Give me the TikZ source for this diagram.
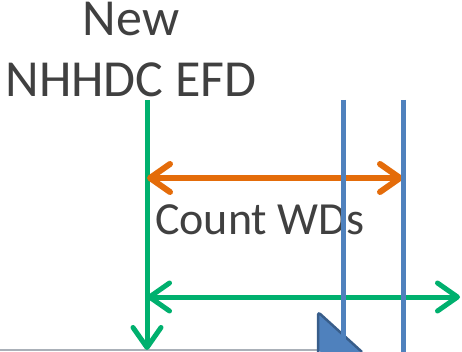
\documentclass[tikz,border=0pt]{standalone}
\usepackage{fontspec}
\setmainfont{Carlito}
\usetikzlibrary{arrows.meta}
\definecolor{tgreen}{RGB}{0,176,110}
\definecolor{torange}{RGB}{228,108,10}
\definecolor{tblue}{RGB}{79,129,189}
\definecolor{tdblue}{RGB}{56,93,138}
\definecolor{ttext}{RGB}{64,64,64}
\definecolor{tgray}{RGB}{170,176,184}
\tikzset{
  barb/.tip={Straight Barb[length=20pt,width=28pt,round]},
  greenline/.style={draw=tgreen,line width=5pt},
  orangeline/.style={draw=torange,line width=6pt},
  blueline/.style={draw=tblue,line width=5pt},
  title/.style={text=ttext,font=\fontsize{52}{62}\selectfont,inner sep=0pt,align=center},
  label/.style={text=ttext,font=\fontsize{46}{55}\selectfont,inner sep=0pt,anchor=base west},
}
\begin{document}
\begin{tikzpicture}[x=1pt,y=-1pt]
\useasboundingbox (0,0) rectangle (462,352);
% gray baseline
\coordinate (g0) at (0,350);
\coordinate (g1) at (318,350);
\draw[tgray,line width=1.5pt] (g0) -- (g1);
% titles
\node[title,anchor=base] (new) at (131,36) {New};
\node[title,anchor=base] (nhhdc) at (131,97) {NHHDC EFD};
% green vertical
\coordinate (gt) at (147,100);
\coordinate (gb) at (147,350);
\draw[greenline,-{barb}] (gt) -- (gb);
% orange double arrow
\coordinate (oL) at (147,178);
\coordinate (oR) at (403,178);
\draw[orangeline,{barb}-{barb}] (oL) -- (oR);
% label
\node[label] (count) at (155,235) {Count WDs};
% green double arrow
\coordinate (hL) at (147,297);
\coordinate (hR) at (460,297);
\draw[greenline,{barb}-{barb}] (hL) -- (hR);
% blue shape
\coordinate (s1) at (318,352);
\coordinate (s2) at (318,312);
\coordinate (s3) at (362,352);
\fill[tblue] (s1) -- (s2) [rounded corners=3pt] -- (s3) -- cycle;
\draw[tdblue,line width=2.5pt,line join=round,rounded corners=3pt] (s1) -- (s2) -- (s3);
% blue verticals
\coordinate (b1t) at (343,100);
\coordinate (b1b) at (343,352);
\coordinate (b2t) at (403,100);
\coordinate (b2b) at (403,352);
\draw[blueline] (b1t) -- (b1b);
\draw[blueline] (b2t) -- (b2b);
\end{tikzpicture}
\end{document}
